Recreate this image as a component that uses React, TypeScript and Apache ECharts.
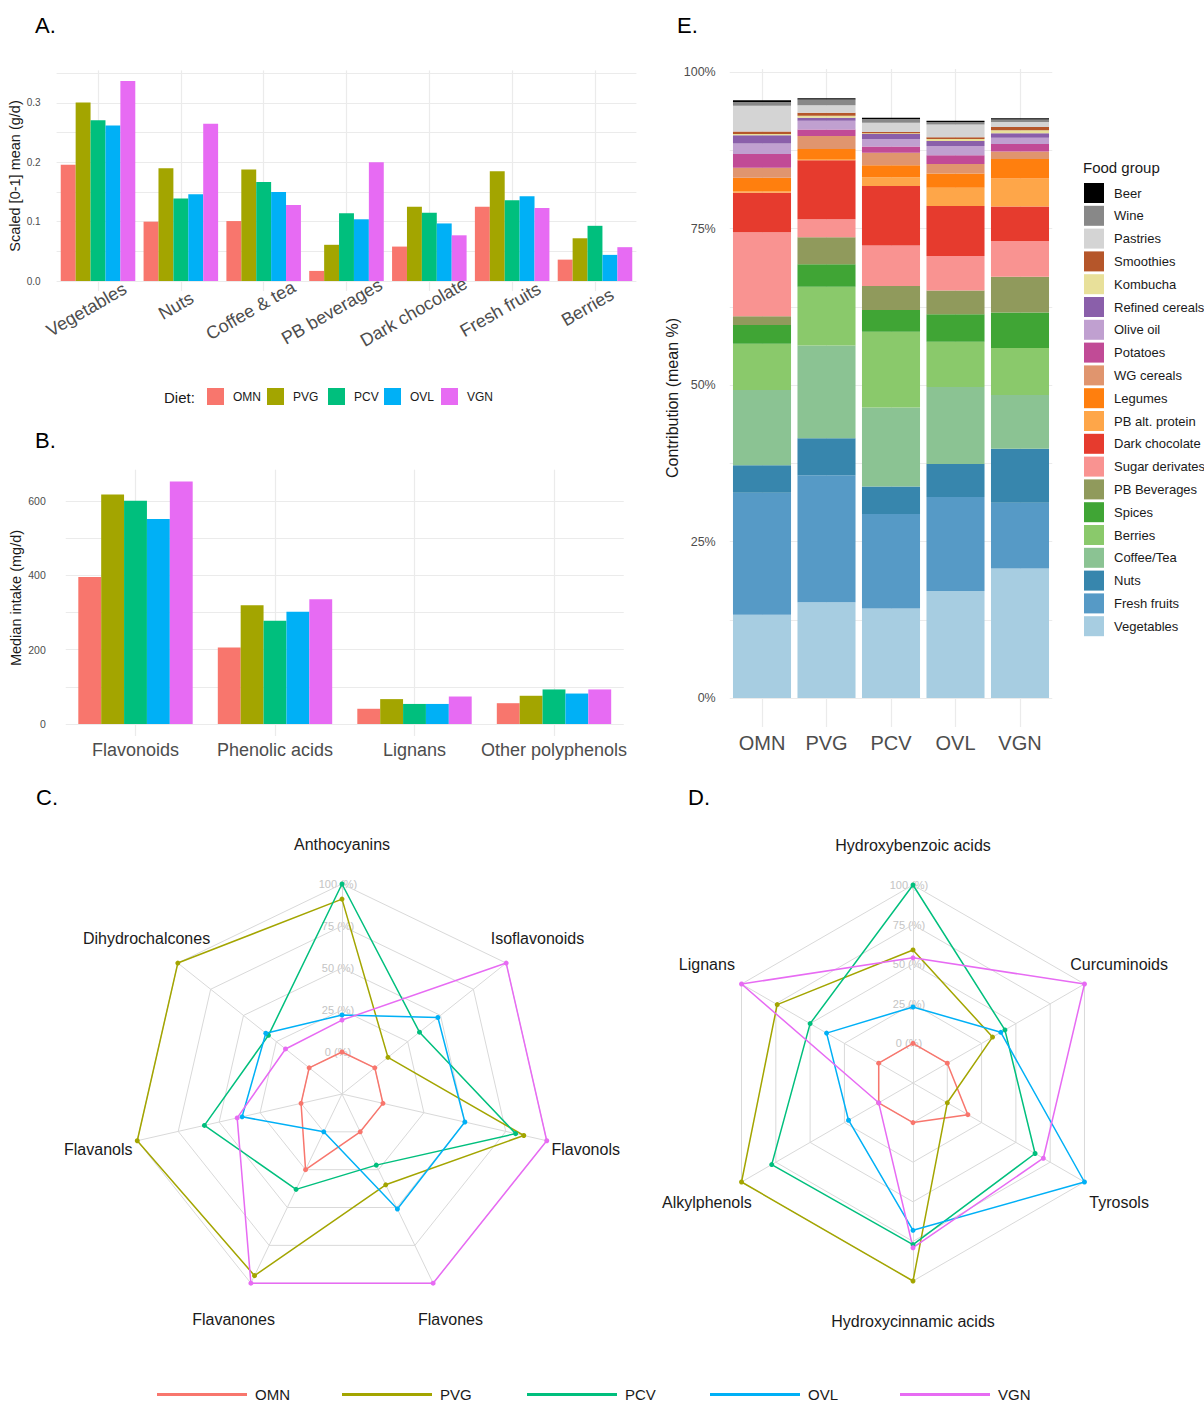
import React, { useEffect, useRef } from "react";
import * as echarts from "echarts";

// ---------- DATA ----------
const diets = ["OMN", "PVG", "PCV", "OVL", "VGN"];
const dietColors = ["#F8766D", "#A3A500", "#00BF7D", "#00B0F6", "#E76BF3"];

// Panel A
const foodCatsA = ["Vegetables", "Nuts", "Coffee & tea", "PB beverages", "Dark chocolate", "Fresh fruits", "Berries"];
const scaledOMN = [0.196, 0.1, 0.101, 0.017, 0.058, 0.125, 0.036];
const scaledPVG = [0.301, 0.19, 0.188, 0.061, 0.125, 0.185, 0.072];
const scaledPCV = [0.271, 0.139, 0.167, 0.114, 0.115, 0.136, 0.093];
const scaledOVL = [0.262, 0.146, 0.15, 0.104, 0.097, 0.143, 0.044];
const scaledVGN = [0.337, 0.265, 0.128, 0.2, 0.077, 0.123, 0.057];
const yTicksA = [0, 0.1, 0.2, 0.3];

// Panel B
const classesB = ["Flavonoids", "Phenolic acids", "Lignans", "Other polyphenols"];
const medianOMN = [396, 206, 41, 56];
const medianPVG = [618, 320, 67, 76];
const medianPCV = [601, 278, 54, 93];
const medianOVL = [552, 302, 54, 82];
const medianVGN = [653, 336, 74, 93];
const yTicksB = [0, 200, 400, 600];

// Panel C (clockwise from top)
const flavSubclasses = ["Anthocyanins", "Isoflavonoids", "Flavonols", "Flavones", "Flavanones", "Flavanols", "Dihydrochalcones"];
const flavOMN = [0, 0, 0, 0, 25, 0, 0];
const flavPVG = [91, 10, 86, 35, 95, 100, 100];
const flavPCV = [100, 34, 81, 22, 38, 59, 31];
const flavOVL = [22, 48, 50, 51, 0, 36, 33];
const flavVGN = [19, 100, 100, 100, 100, 39, 18];

// Panel D (clockwise from top)
const phenSubclasses = ["Hydroxybenzoic acids", "Curcuminoids", "Tyrosols", "Hydroxycinnamic acids", "Alkylphenols", "Lignans"];
const phenOMN = [0, 0, 15, 0, 0, 0];
const phenPVG = [59, 33, 0, 100, 100, 74];
const phenPCV = [100, 42, 64, 77, 78, 50];
const phenOVL = [23, 39, 100, 68, 22, 38];
const phenVGN = [54, 100, 70, 79, 0, 100];
const ringTicks = [0, 25, 50, 75, 100];

// Panel E (bottom to top)
const foodGroups = ["Vegetables", "Fresh fruits", "Nuts", "Coffee/Tea", "Berries", "Spices", "PB Beverages", "Sugar derivates", "Dark chocolate", "PB alt. protein", "Legumes", "WG cereals", "Potatoes", "Olive oil", "Refined cereals", "Kombucha", "Smoothies", "Pastries", "Wine", "Beer"];
const foodColors = ["#a7cde1", "#569ac6", "#3786ad", "#8bc393", "#8ac96b", "#40a535", "#909a5c", "#f99391", "#e63b2e", "#fea649", "#ff7f0e", "#e0956e", "#c14b96", "#c0a0d0", "#8a5faa", "#e8e09a", "#b5562a", "#d4d4d4", "#888888", "#000000"];
const contribOMN = [13.3, 19.5, 4.4, 12.0, 7.4, 3.0, 1.4, 13.4, 6.3, 0.2, 2.2, 1.6, 2.2, 1.7, 1.3, 0.2, 0.4, 4.1, 0.6, 0.3];
const contribPVG = [15.3, 20.3, 5.9, 14.8, 9.4, 3.6, 4.3, 2.9, 9.4, 0.2, 1.6, 2.1, 1.0, 1.4, 0.5, 0.3, 0.5, 1.2, 0.9, 0.2];
const contribPCV = [14.3, 15.1, 4.4, 12.6, 12.1, 3.5, 3.8, 6.5, 9.5, 1.4, 1.9, 2.0, 1.0, 1.2, 0.8, 0.1, 0.2, 1.5, 0.6, 0.2];
const contribOVL = [17.1, 15.0, 5.3, 12.3, 7.2, 4.4, 3.8, 5.5, 8.0, 2.9, 2.3, 1.5, 1.4, 1.5, 0.8, 0.3, 0.3, 2.0, 0.4, 0.2];
const contribVGN = [20.7, 10.5, 8.6, 8.6, 7.5, 5.7, 5.7, 5.7, 5.5, 4.5, 3.1, 1.2, 1.2, 1.0, 0.7, 0.5, 0.5, 0.8, 0.4, 0.2];
const yTicksE = [0, 25, 50, 75, 100];

// ---------- STYLE ----------
const FONT = '"Liberation Sans", Arial, Helvetica, sans-serif';
const GRID = "#ebebeb";
const AXIS_TEXT = "#4d4d4d";
const DARK = "#1a1a1a";

function radarOrder<T>(arr: T[]): T[] {
  return [arr[0], ...arr.slice(1).reverse()];
}

function buildOption() {
  const scaled = [scaledOMN, scaledPVG, scaledPCV, scaledOVL, scaledVGN];
  const median = [medianOMN, medianPVG, medianPCV, medianOVL, medianVGN];
  const flav = [flavOMN, flavPVG, flavPCV, flavOVL, flavVGN];
  const phen = [phenOMN, phenPVG, phenPCV, phenOVL, phenVGN];
  const contrib = [contribOMN, contribPVG, contribPCV, contribOVL, contribVGN];

  const ctx = document.createElement("canvas").getContext("2d");
  const measure = (t: string, size: number) => {
    if (!ctx) return t.length * size * 0.5;
    ctx.font = `${size}px "Liberation Sans", Arial, sans-serif`;
    return ctx.measureText(t).width;
  };
  const richA: Record<string, any> = {};
  foodCatsA.forEach((c, i) => {
    richA["c" + i] = { fontSize: 18, color: AXIS_TEXT, fontFamily: FONT, padding: [0, 0.3 * measure(c, 18), 0, 0] };
  });

  const near = (v: number, list: number[]) => list.some((t) => Math.abs(v - t) < 1e-6);

  const radarC = { center: [342, 1094], radius: 210 };
  const radarD = { center: [913, 1083], radius: 198 };

  const radarCommon = {
    startAngle: 90,
    splitNumber: 5,
    shape: "polygon",
    axisName: { show: false },
    axisLine: { lineStyle: { color: "#d9d9d9", width: 1 } },
    splitLine: { lineStyle: { color: "#d9d9d9", width: 1 } },
    splitArea: { show: false },
    axisTick: { show: false },
    axisLabel: { show: false },
  };

  const radarLabelEls = (names: string[], c: { center: number[]; radius: number }) =>
    names.map((n, k) => {
      const a = Math.PI / 2 - (k * 2 * Math.PI) / names.length;
      const r = c.radius + 40;
      return {
        type: "text",
        x: c.center[0] + r * Math.cos(a),
        y: c.center[1] - r * Math.sin(a),
        style: { text: n, fontSize: 16, fontFamily: FONT, fill: DARK, align: "center", verticalAlign: "middle" },
      };
    });
  const ringLabelEls = (c: { center: number[]; radius: number }) =>
    ringTicks.map((p) => ({
      type: "text",
      x: c.center[0] - 4,
      y: c.center[1] - ((p + 25) / 125) * c.radius,
      style: { text: `${p} (%)`, fontSize: 11, fontFamily: FONT, fill: "#c4c4c4", align: "center", verticalAlign: "middle" },
    }));

  const titleEl = (text: string, x: number, y: number, size: number, rot = 0, align = "left") => ({
    type: "text",
    x,
    y,
    rotation: rot,
    style: { text, fontSize: size, fontFamily: FONT, fill: rot ? DARK : "#000", align, verticalAlign: "middle" },
  });

  const dietLegendX = [207, 267, 328, 384, 441];
  const radarLegendX = [157, 342, 527, 710, 900];

  const catAxisCommon = (tickLen: number) => ({
    type: "category",
    boundaryGap: true,
    axisLine: { show: false },
    axisTick: { show: true, alignWithLabel: true, length: tickLen, lineStyle: { color: GRID, width: 1.2 } },
    splitLine: { show: true, alignWithLabel: true, lineStyle: { color: GRID, width: 1.2 } },
  });
  const valAxisCommon = {
    type: "value",
    axisLine: { show: false },
    axisTick: { show: false },
    splitLine: { show: true, showMaxLine: false, lineStyle: { color: GRID, width: 1.2 } },
  };

  return {
    animation: false,
    backgroundColor: "#ffffff",
    textStyle: { fontFamily: FONT },
    grid: [
      { left: 56.6, top: 70.4, width: 579.8, height: 210.6, containLabel: false, outerBoundsMode: "none" },
      { left: 65.75, top: 469.7, width: 558, height: 254.3, containLabel: false, outerBoundsMode: "none" },
      { left: 729.75, top: 68.9, width: 322.5, height: 629.1, containLabel: false, outerBoundsMode: "none" },
    ],
    xAxis: [
      {
        ...catAxisCommon(10),
        gridIndex: 0,
        data: foodCatsA,
        axisLabel: {
          interval: 0,
          rotate: 30,
          align: "center",
          verticalAlign: "middle",
          margin: 22,
          rich: richA,
          formatter: (v: string, i: number) => `{c${i}|${v}}`,
        },
      },
      {
        ...catAxisCommon(12),
        gridIndex: 1,
        data: classesB,
        axisLabel: { interval: 0, fontSize: 18, color: AXIS_TEXT, fontFamily: FONT, margin: 17 },
      },
      {
        ...catAxisCommon(29),
        gridIndex: 2,
        data: diets,
        axisLabel: { interval: 0, fontSize: 20, color: AXIS_TEXT, fontFamily: FONT, margin: 35 },
      },
    ],
    yAxis: [
      {
        ...valAxisCommon,
        gridIndex: 0,
        min: 0,
        max: 0.3549,
        interval: 0.05,
        axisLabel: {
          fontSize: 10,
          color: AXIS_TEXT,
          fontFamily: FONT,
          margin: 16,
          formatter: (v: number) => (near(v, yTicksA) ? v.toFixed(1) : ""),
        },
      },
      {
        ...valAxisCommon,
        gridIndex: 1,
        min: 0,
        max: 684.6,
        interval: 100,
        axisLabel: {
          fontSize: 10.5,
          color: AXIS_TEXT,
          fontFamily: FONT,
          margin: 20,
          formatter: (v: number) => (near(v, yTicksB) ? String(v) : ""),
        },
      },
      {
        ...valAxisCommon,
        gridIndex: 2,
        min: 0,
        max: 100.5,
        interval: 12.5,
        axisLabel: {
          fontSize: 12.5,
          color: AXIS_TEXT,
          fontFamily: FONT,
          margin: 14,
          formatter: (v: number) => (near(v, yTicksE) ? v + "%" : ""),
        },
      },
    ],
    radar: [
      { ...radarCommon, ...radarC, indicator: radarOrder(flavSubclasses).map((n) => ({ name: n, min: -25, max: 100 })) },
      { ...radarCommon, ...radarD, indicator: radarOrder(phenSubclasses).map((n) => ({ name: n, min: -25, max: 100 })) },
    ],
    legend: [
      {
        orient: "vertical",
        left: 1084,
        top: 183,
        padding: 0,
        itemWidth: 20,
        itemHeight: 20,
        itemGap: 2.8,
        icon: "rect",
        selectedMode: false,
        data: [...foodGroups].reverse(),
        textStyle: { fontSize: 13, color: DARK, fontFamily: FONT, padding: [0, 0, 0, 5] },
      },
      ...diets.map((d, i) => ({
        left: dietLegendX[i],
        top: 388,
        padding: 0,
        itemWidth: 17,
        itemHeight: 17,
        icon: "rect",
        selectedMode: false,
        data: [d],
        textStyle: { fontSize: 12, color: DARK, fontFamily: FONT, padding: [0, 0, 0, 4] },
      })),
      ...diets.map((d, i) => ({
        left: radarLegendX[i],
        top: 1387,
        padding: 0,
        itemWidth: 90,
        itemHeight: 3,
        icon: "rect",
        selectedMode: false,
        data: [d],
        textStyle: { fontSize: 15, color: DARK, fontFamily: FONT, padding: [0, 0, 0, 3] },
      })),
    ],
    graphic: [
      titleEl("A.", 35, 25, 22),
      titleEl("B.", 35, 440, 22),
      titleEl("C.", 36, 797, 22),
      titleEl("D.", 688, 797, 22),
      titleEl("E.", 677, 25, 22),
      titleEl("Scaled [0-1] mean (g/d)", 15, 176, 14.5, Math.PI / 2, "center"),
      titleEl("Median intake (mg/d)", 16, 598, 14.5, Math.PI / 2, "center"),
      titleEl("Contribution (mean %)", 672, 398, 16, Math.PI / 2, "center"),
      { type: "text", x: 164, y: 397, style: { text: "Diet:", fontSize: 15, fontFamily: FONT, fill: DARK, align: "left", verticalAlign: "middle" } },
      { type: "text", x: 1083, y: 167, style: { text: "Food group", fontSize: 15, fontFamily: FONT, fill: DARK, align: "left", verticalAlign: "middle" } },
      ...radarLabelEls(flavSubclasses, radarC),
      ...radarLabelEls(phenSubclasses, radarD),
      ...ringLabelEls(radarC),
      ...ringLabelEls(radarD),
    ],
    series: [
      ...diets.map((d, i) => ({
        type: "bar",
        name: d,
        xAxisIndex: 0,
        yAxisIndex: 0,
        data: scaled[i],
        barGap: "0%",
        barCategoryGap: "10%",
        itemStyle: { color: dietColors[i] },
      })),
      ...diets.map((d, i) => ({
        type: "bar",
        name: d,
        xAxisIndex: 1,
        yAxisIndex: 1,
        data: median[i],
        barGap: "0%",
        barCategoryGap: "18%",
        itemStyle: { color: dietColors[i] },
      })),
      ...foodGroups.map((g, k) => ({
        type: "bar",
        name: g,
        xAxisIndex: 2,
        yAxisIndex: 2,
        stack: "contrib",
        barCategoryGap: "10%",
        data: contrib.map((arr) => arr[k]),
        itemStyle: { color: foodColors[k] },
      })),
      {
        type: "radar",
        radarIndex: 0,
        symbol: "circle",
        symbolSize: 5,
        data: diets.map((d, i) => ({
          name: d,
          value: radarOrder(flav[i]),
          lineStyle: { color: dietColors[i], width: 1.5 },
          itemStyle: { color: dietColors[i] },
        })),
      },
      {
        type: "radar",
        radarIndex: 1,
        symbol: "circle",
        symbolSize: 5,
        data: diets.map((d, i) => ({
          name: d,
          value: radarOrder(phen[i]),
          lineStyle: { color: dietColors[i], width: 1.5 },
          itemStyle: { color: dietColors[i] },
        })),
      },
    ],
  };
}

export default function App() {
  const ref = useRef<HTMLDivElement>(null);
  useEffect(() => {
    if (!ref.current) return;
    const chart = echarts.init(ref.current, null, { renderer: "svg" });
    chart.setOption(buildOption() as any);
    return () => chart.dispose();
  }, []);
  return (
    <div
      ref={ref}
      style={{ position: "absolute", left: 0, top: 0, width: 1204, height: 1404, background: "#ffffff" }}
    />
  );
}
